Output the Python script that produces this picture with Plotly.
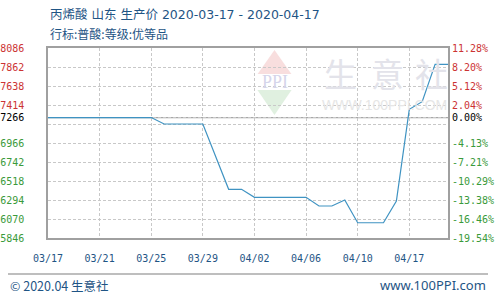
import plotly.graph_objects as go

# ---- data ----
dates = ['2020-03-17', '2020-03-18', '2020-03-19', '2020-03-20', '2020-03-21', '2020-03-22',
         '2020-03-23', '2020-03-24', '2020-03-25', '2020-03-26', '2020-03-27', '2020-03-28',
         '2020-03-29', '2020-03-31', '2020-04-01', '2020-04-02', '2020-04-03', '2020-04-04',
         '2020-04-05', '2020-04-06', '2020-04-07', '2020-04-08', '2020-04-09', '2020-04-10',
         '2020-04-11', '2020-04-12', '2020-04-13', '2020-04-14', '2020-04-15', '2020-04-16',
         '2020-04-17']
prices = [7266, 7266, 7266, 7266, 7266, 7266,
          7266, 7266, 7266, 7190, 7190, 7190,
          7190, 6420, 6420, 6326, 6326, 6326,
          6326, 6326, 6223, 6223, 6294, 6026,
          6026, 6026, 6282, 7363, 7453, 7894,
          7894]

base_price = 7266
y_min, y_max = 5846, 8086
grid_step = 224
tick_vals = [8086, 7862, 7638, 7414, 7266, 6966, 6742, 6518, 6294, 6070, 5846]
left_labels = ['8086', '7862', '7638', '7414', '7266', '6966', '6742', '6518', '6294', '6070', '5846']
right_labels = ['11.28%', '8.20%', '5.12%', '2.04%', '0.00%', '-4.13%', '-7.21%',
                '-10.29%', '-13.38%', '-16.46%', '-19.54%']
x_tick_vals = ['2020-03-17', '2020-03-21', '2020-03-25', '2020-03-29', '2020-04-02',
               '2020-04-06', '2020-04-10', '2020-04-14']
x_tick_text = ['03/17', '03/21', '03/25', '03/29', '04/02', '04/06', '04/10', '04/17']

title1 = '丙烯酸 山东 生产价 2020-03-17 - 2020-04-17'
title2 = '行标:普酸:等级:优等品'
footer_left = '© 2020.04 生意社'
footer_right = 'www.100PPI.com'

RED = '#cc3333'
GREEN = '#3a9a3a'
NAVY = '#1f5585'
GRID = '#c8c8c8'
DASH = '3px,2px'


def colorize(vals, labels):
    out = []
    for v, t in zip(vals, labels):
        if v > base_price:
            out.append(f"<span style='color:{RED}'>{t}</span>")
        elif v < base_price:
            out.append(f"<span style='color:{GREEN}'>{t}</span>")
        else:
            out.append(f"<span style='color:#000000'>{t}</span>")
    return out


fig = go.Figure()
# invisible copy so the right-hand percentage axis is rendered
fig.add_trace(go.Scatter(x=dates, y=prices, mode='lines', yaxis='y2', opacity=0,
                         hoverinfo='skip', line=dict(width=0), showlegend=False))
fig.add_trace(go.Scatter(x=dates, y=prices, mode='lines', yaxis='y',
                         line=dict(color='#3f93c2', width=1.2), showlegend=False))

tick_font = dict(family='DejaVu Sans Mono', size=10)

fig.update_layout(
    width=496, height=298, autosize=False,
    margin=dict(l=48, r=48, t=48, b=60, pad=0),
    paper_bgcolor='white', plot_bgcolor='white',
    xaxis=dict(type='date', range=['2020-03-17', '2020-04-17'],
               tickvals=x_tick_vals, ticktext=x_tick_text, automargin=False,
               showgrid=True, gridcolor=GRID, griddash=DASH, gridwidth=1,
               showline=True, mirror=True, linecolor='#a0a0a0', linewidth=1.5,
               ticks='', tickfont=dict(tick_font, color=NAVY), ticklabelstandoff=10,
               zeroline=False),
    yaxis=dict(range=[y_min, y_max], tickvals=tick_vals,
               ticktext=colorize(tick_vals, left_labels), automargin=False,
               showgrid=True, gridcolor=GRID, griddash=DASH, gridwidth=1,
               minor=dict(tick0=y_min, dtick=grid_step, showgrid=True, gridcolor=GRID,
                          griddash=DASH, gridwidth=1, ticks=''),
               showline=True, mirror=True, linecolor='#a0a0a0', linewidth=1.5,
               ticks='', tickfont=tick_font, ticklabelstandoff=20, zeroline=False),
    yaxis2=dict(range=[y_min, y_max], overlaying='y', side='right', automargin=False,
                tickvals=tick_vals, ticktext=colorize(tick_vals, right_labels),
                showgrid=False, showline=False, ticks='', tickfont=tick_font,
                ticklabelstandoff=3, zeroline=False),
)

# base price reference line
fig.add_shape(type='line', xref='paper', yref='y', x0=0, x1=1, y0=base_price, y1=base_price,
              layer='between', line=dict(color='#a8a8a8', width=1.2))

# helper for pixel -> paper conversion (layout decoration only)
PL, PR, PT, PB = 48, 448, 48, 238


def px(x):
    return (x - PL) / (PR - PL)


def py(y):
    return (PB - y) / (PB - PT)


# watermark diamond
fig.add_shape(type='path', xref='paper', yref='paper', layer='below',
              path=f'M {px(252)} {py(82)} L {px(274.5)} {py(50)} L {px(297)} {py(82)} Z',
              fillcolor='#f8dede', line=dict(width=0))
fig.add_shape(type='path', xref='paper', yref='paper', layer='below',
              path=f'M {px(252)} {py(82)} L {px(274.5)} {py(115)} L {px(297)} {py(82)} Z',
              fillcolor='#e0f0e0', line=dict(width=0))
fig.add_shape(type='rect', xref='paper', yref='paper', layer='below',
              x0=px(250), x1=px(299), y0=py(90), y1=py(74),
              fillcolor='white', line=dict(width=0))

annotations = [
    dict(text='PPI', x=px(274.5), y=py(82), font=dict(family='Liberation Serif', size=18, color='#d5d5ea')),
    dict(text='生', x=px(340), y=py(73), font=dict(family='Noto Sans CJK SC', size=33, color='#e3e3ea')),
    dict(text='意', x=px(387), y=py(73), font=dict(family='Noto Sans CJK SC', size=33, color='#e3e3ea')),
    dict(text='社', x=px(431), y=py(73), font=dict(family='Noto Sans CJK SC', size=33, color='#e3e3ea')),
    dict(text='WWW.100PPI.COM', x=px(384), y=py(105), font=dict(family='Liberation Sans', size=14, color='#e6e6e6')),
]
for a in annotations:
    fig.add_annotation(xref='paper', yref='paper', showarrow=False,
                       xanchor='center', yanchor='middle', **a)

# titles
title_font = dict(family='DejaVu Sans, Noto Sans CJK SC', size=12.5, color=NAVY)
fig.add_annotation(text=title1, xref='paper', yref='paper', x=px(48), y=py(14),
                   xanchor='left', yanchor='middle', showarrow=False, font=title_font)
fig.add_annotation(text=title2, xref='paper', yref='paper', x=px(48), y=py(33),
                   xanchor='left', yanchor='middle', showarrow=False,
                   font=dict(family='Noto Sans CJK SC', size=12, color=NAVY))

# footer
fig.add_shape(type='line', xref='paper', yref='paper', x0=px(8), x1=px(488),
              y0=py(274), y1=py(274), line=dict(color='#a8a8a8', width=1.5))
fig.add_annotation(text=footer_left, xref='paper', yref='paper', x=px(8), y=py(285),
                   xanchor='left', yanchor='middle', showarrow=False,
                   font=dict(family='Noto Sans CJK SC', size=12.5, color=NAVY))
fig.add_annotation(text=footer_right, xref='paper', yref='paper', x=px(488), y=py(285),
                   xanchor='right', yanchor='middle', showarrow=False,
                   font=dict(family='Noto Sans', size=13, color=NAVY))

fig.write_html('out.html')
